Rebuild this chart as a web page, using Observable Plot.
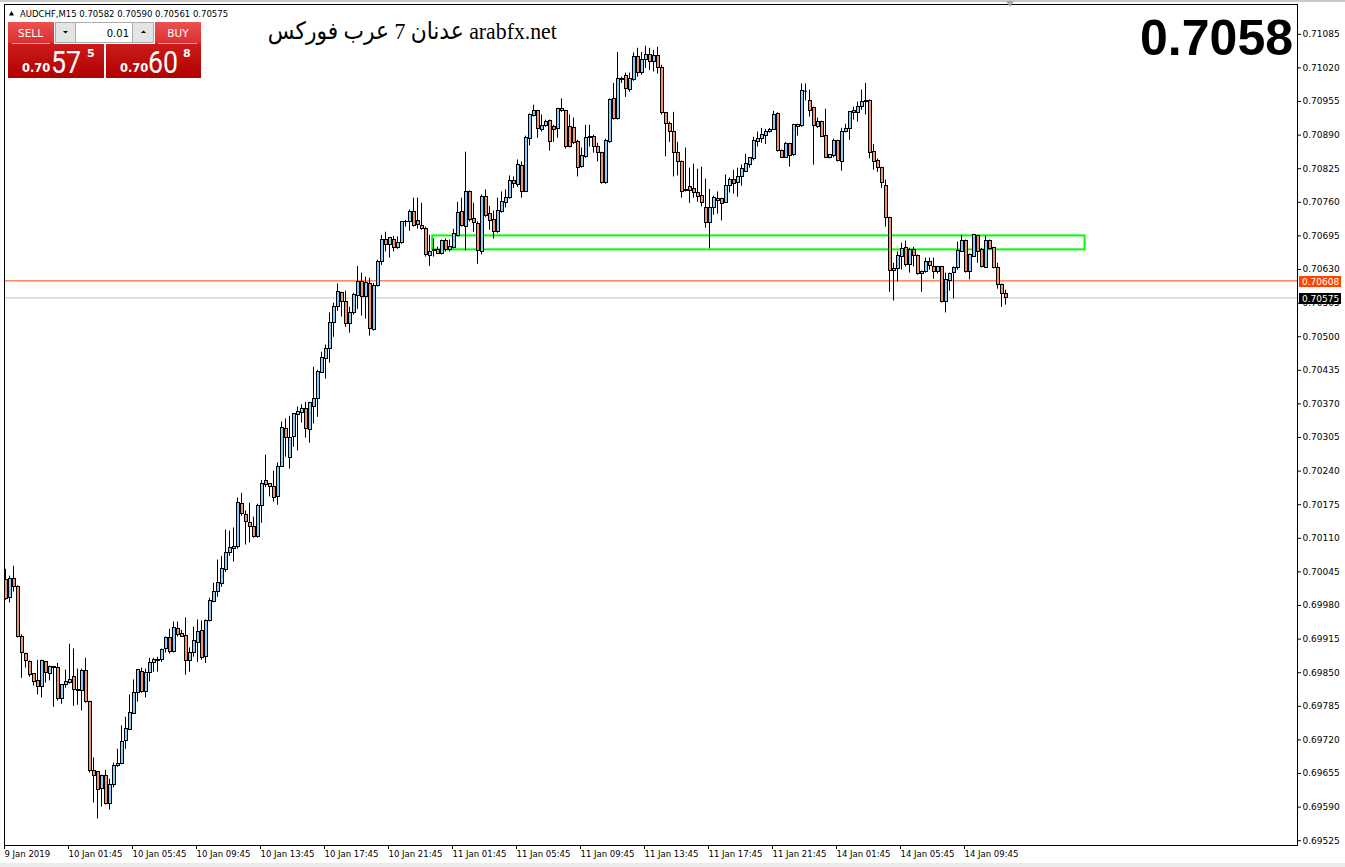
<!DOCTYPE html>
<html><head><meta charset="utf-8">
<script src="https://cdn.jsdelivr.net/npm/d3@7"></script>
<script src="https://cdn.jsdelivr.net/npm/@observablehq/plot@0.6"></script>
<style>
html,body{margin:0;padding:0;background:#fff;overflow:hidden;}
#wrap{position:relative;width:1345px;height:867px;overflow:hidden;background:#fff;}
#chart{position:absolute;left:0;top:0;}
#overlay{position:absolute;left:0;top:0;pointer-events:none;}
#brand{position:absolute;right:788px;top:15px;font-family:"Liberation Serif","DejaVu Sans",serif;font-size:24px;line-height:32px;white-space:nowrap;direction:rtl;color:#000;transform-origin:right center;}
</style></head><body>
<div id="wrap">
<div id="chart"></div>
<svg id="overlay" width="1345" height="867">
<defs>
<linearGradient id="lbl" x1="0" y1="0" x2="0" y2="1"><stop offset="0" stop-color="#ec5050"/><stop offset="1" stop-color="#dc3030"/></linearGradient>
<linearGradient id="px" x1="0" y1="0" x2="0" y2="1"><stop offset="0" stop-color="#de2c2c"/><stop offset="1" stop-color="#b00000"/></linearGradient>
</defs>
<rect x="0" y="0" width="1345" height="2" fill="#c8c8c8"/>
<rect x="0" y="863" width="1345" height="4" fill="#ececec"/>
<polygon points="1006,1 1014,1 1010,7" fill="#a8a8a8"/>
<polygon points="9,15.5 14,15.5 11.5,11" fill="#000"/>
<text id="info" x="20" y="16.5" font-family="DejaVu Sans" font-size="8.5" fill="#000"></text>
<!-- sell -->
<rect x="8" y="22" width="96" height="56" fill="url(#px)"/>
<rect x="8" y="22" width="46" height="21" fill="url(#lbl)"/>
<line x1="12" y1="43.5" x2="50" y2="43.5" stroke="#f2a0a0"/>
<text x="30.5" y="37" text-anchor="middle" fill="#fff" font-family="DejaVu Sans" font-size="10.5">SELL</text>
<!-- buy -->
<rect x="106" y="22" width="95" height="56" fill="url(#px)"/>
<rect x="155" y="22" width="46" height="21" fill="url(#lbl)"/>
<line x1="158" y1="43.5" x2="197" y2="43.5" stroke="#f2a0a0"/>
<text x="178" y="37" text-anchor="middle" fill="#fff" font-family="DejaVu Sans" font-size="10.5">BUY</text>
<!-- lot control -->
<rect x="54" y="21" width="101" height="23" fill="#fff"/>
<rect x="55.5" y="22.5" width="20" height="20" fill="#e4e4e4" stroke="#acacac"/>
<rect x="75.5" y="22.5" width="57" height="20" fill="#fff" stroke="#acacac"/>
<rect x="132.5" y="22.5" width="21" height="20" fill="#e4e4e4" stroke="#acacac"/>
<polygon points="63,31 68,31 65.5,33.5" fill="#000"/>
<polygon points="141,33 146,33 143.5,30.5" fill="#000"/>
<text id="lot" x="129" y="36.5" text-anchor="end" font-family="DejaVu Sans" font-size="10" fill="#000"></text>
<!-- prices -->
<text id="sPre" x="22" y="72" font-family="DejaVu Sans" font-weight="bold" font-size="11.5" fill="#fff"></text>
<text id="sBig" x="51" y="72.5" font-family="Roboto" font-size="32" fill="#fff" textLength="30" lengthAdjust="spacingAndGlyphs"></text>
<text id="sSup" x="87" y="57" font-family="DejaVu Sans" font-weight="bold" font-size="11" fill="#fff"></text>
<text id="bPre" x="120" y="72" font-family="DejaVu Sans" font-weight="bold" font-size="11.5" fill="#fff"></text>
<text id="bBig" x="148" y="72.5" font-family="Roboto" font-size="32" fill="#fff" textLength="30" lengthAdjust="spacingAndGlyphs"></text>
<text id="bSup" x="183" y="57" font-family="DejaVu Sans" font-weight="bold" font-size="11" fill="#fff"></text>
<text id="bigPrice" x="1293" y="55" text-anchor="end" font-family="Liberation Sans" font-weight="bold" font-size="50" fill="#000"></text>
</svg>
<div id="brand"></div>
</div>
<script>
// ---- data (AUDCHF, M15) ----
const symbol = "AUDCHF,M15";
const opens = [
0.70029,0.69994,0.70031,0.70015,0.69919,0.69886,0.69871,0.69847,0.69834,0.69822,
0.69870,0.69848,0.69861,0.69860,0.69799,0.69826,0.69830,0.69841,0.69816,0.69815,
0.69853,0.69793,0.69660,0.69658,0.69625,0.69650,0.69596,0.69632,0.69669,0.69673,
0.69718,0.69740,0.69771,0.69811,0.69852,0.69812,0.69849,0.69869,0.69873,0.69875,
0.69895,0.69917,0.69890,0.69935,0.69925,0.69921,0.69872,0.69888,0.69908,0.69930,
0.69880,0.69950,0.69987,0.70007,0.70022,0.70048,0.70081,0.70089,0.70093,0.70176,
0.70155,0.70140,0.70132,0.70112,0.70172,0.70220,0.70215,0.70210,0.70190,0.70248,
0.70322,0.70265,0.70306,0.70348,0.70352,0.70360,0.70320,0.70364,0.70380,0.70430,
0.70456,0.70476,0.70527,0.70557,0.70584,0.70567,0.70524,0.70546,0.70578,0.70605,
0.70576,0.70601,0.70513,0.70598,0.70644,0.70687,0.70677,0.70688,0.70671,0.70681,
0.70722,0.70721,0.70741,0.70724,0.70714,0.70708,0.70656,0.70665,0.70668,0.70660,
0.70685,0.70668,0.70671,0.70695,0.70741,0.70712,0.70780,0.70727,0.70718,0.70664,
0.70770,0.70737,0.70725,0.70702,0.70741,0.70758,0.70768,0.70801,0.70793,0.70831,
0.70780,0.70882,0.70927,0.70936,0.70900,0.70907,0.70917,0.70905,0.70901,0.70936,
0.70936,0.70905,0.70903,0.70876,0.70828,0.70847,0.70884,0.70886,0.70867,0.70855,
0.70797,0.70876,0.70960,0.70921,0.70998,0.71004,0.70977,0.70996,0.71041,0.71010,
0.71035,0.71045,0.71031,0.71043,0.71019,0.70932,0.70911,0.70896,0.70855,0.70838,
0.70782,0.70789,0.70785,0.70778,0.70772,0.70749,0.70720,0.70749,0.70766,0.70766,
0.70758,0.70791,0.70803,0.70797,0.70809,0.70818,0.70832,0.70844,0.70876,0.70882,
0.70888,0.70896,0.70900,0.70931,0.70859,0.70846,0.70872,0.70851,0.70905,0.70907,
0.70975,0.70956,0.70942,0.70905,0.70915,0.70888,0.70846,0.70849,0.70878,0.70838,
0.70896,0.70901,0.70936,0.70933,0.70944,0.70954,0.70956,0.70857,0.70840,0.70826,
0.70791,0.70729,0.70627,0.70631,0.70654,0.70671,0.70638,0.70668,0.70656,0.70621,
0.70625,0.70644,0.70635,0.70625,0.70635,0.70567,0.70608,0.70623,0.70633,0.70664,
0.70685,0.70625,0.70654,0.70694,0.70668,0.70633,0.70685,0.70671,0.70633,0.70600,
0.70582];
const highs = [
0.70050,0.70037,0.70056,0.70018,0.69923,0.69888,0.69873,0.69848,0.69874,0.69874,
0.69871,0.69863,0.69862,0.69868,0.69826,0.69855,0.69905,0.69896,0.69857,0.69857,
0.69878,0.69795,0.69685,0.69659,0.69652,0.69661,0.69644,0.69675,0.69702,0.69747,
0.69764,0.69807,0.69836,0.69855,0.69859,0.69857,0.69878,0.69878,0.69880,0.69896,
0.69919,0.69934,0.69948,0.69948,0.69932,0.69956,0.69898,0.69938,0.69952,0.69950,
0.69952,0.69994,0.70023,0.70068,0.70075,0.70126,0.70124,0.70130,0.70188,0.70197,
0.70163,0.70178,0.70151,0.70176,0.70222,0.70271,0.70216,0.70240,0.70256,0.70335,
0.70341,0.70346,0.70350,0.70364,0.70368,0.70373,0.70373,0.70441,0.70435,0.70470,
0.70484,0.70546,0.70565,0.70602,0.70586,0.70588,0.70557,0.70584,0.70636,0.70623,
0.70615,0.70613,0.70603,0.70648,0.70696,0.70702,0.70691,0.70694,0.70693,0.70722,
0.70725,0.70745,0.70768,0.70768,0.70758,0.70712,0.70696,0.70689,0.70673,0.70687,
0.70689,0.70687,0.70708,0.70760,0.70768,0.70857,0.70782,0.70758,0.70722,0.70774,
0.70784,0.70752,0.70743,0.70768,0.70780,0.70784,0.70811,0.70809,0.70842,0.70838,
0.70888,0.70931,0.70948,0.70938,0.70929,0.70919,0.70919,0.70909,0.70942,0.70960,
0.70938,0.70929,0.70923,0.70880,0.70865,0.70909,0.70909,0.70890,0.70874,0.70857,
0.70882,0.70960,0.70990,0.71050,0.71002,0.71010,0.71010,0.71049,0.71058,0.71050,
0.71062,0.71058,0.71054,0.71060,0.71025,0.70933,0.70915,0.70934,0.70876,0.70840,
0.70865,0.70826,0.70834,0.70824,0.70828,0.70805,0.70785,0.70772,0.70780,0.70768,
0.70813,0.70807,0.70822,0.70826,0.70832,0.70853,0.70846,0.70886,0.70896,0.70903,
0.70901,0.70903,0.70936,0.70933,0.70861,0.70876,0.70874,0.70911,0.70911,0.70989,
0.70989,0.70977,0.70944,0.70923,0.70917,0.70940,0.70851,0.70882,0.70880,0.70903,
0.70911,0.70934,0.70944,0.70954,0.70977,0.70990,0.70958,0.70872,0.70844,0.70828,
0.70803,0.70731,0.70642,0.70664,0.70681,0.70685,0.70671,0.70673,0.70658,0.70627,
0.70652,0.70652,0.70652,0.70636,0.70636,0.70623,0.70623,0.70635,0.70683,0.70696,
0.70687,0.70660,0.70698,0.70696,0.70671,0.70694,0.70687,0.70673,0.70642,0.70602,
0.70590];
const lows = [
0.69990,0.69985,0.70006,0.69917,0.69839,0.69859,0.69841,0.69824,0.69807,0.69801,
0.69830,0.69834,0.69783,0.69795,0.69789,0.69820,0.69828,0.69785,0.69787,0.69776,
0.69791,0.69656,0.69598,0.69567,0.69590,0.69594,0.69584,0.69627,0.69667,0.69672,
0.69702,0.69738,0.69769,0.69793,0.69810,0.69801,0.69832,0.69851,0.69851,0.69870,
0.69888,0.69886,0.69888,0.69919,0.69919,0.69845,0.69851,0.69880,0.69870,0.69874,
0.69868,0.69948,0.69985,0.69996,0.70015,0.70044,0.70075,0.70064,0.70089,0.70153,
0.70097,0.70101,0.70110,0.70110,0.70139,0.70208,0.70190,0.70180,0.70174,0.70247,
0.70267,0.70244,0.70286,0.70279,0.70333,0.70304,0.70294,0.70331,0.70344,0.70429,
0.70418,0.70449,0.70499,0.70549,0.70538,0.70518,0.70507,0.70542,0.70553,0.70540,
0.70534,0.70501,0.70511,0.70596,0.70638,0.70664,0.70652,0.70664,0.70669,0.70679,
0.70712,0.70704,0.70712,0.70708,0.70706,0.70654,0.70636,0.70654,0.70660,0.70658,
0.70664,0.70664,0.70670,0.70693,0.70712,0.70666,0.70722,0.70702,0.70640,0.70658,
0.70731,0.70706,0.70689,0.70700,0.70739,0.70749,0.70766,0.70787,0.70789,0.70768,
0.70780,0.70869,0.70925,0.70884,0.70896,0.70905,0.70859,0.70876,0.70884,0.70934,
0.70863,0.70865,0.70872,0.70809,0.70826,0.70845,0.70867,0.70855,0.70838,0.70795,
0.70795,0.70874,0.70919,0.70919,0.70990,0.70963,0.70973,0.70994,0.71002,0.71006,
0.71019,0.71015,0.71012,0.71008,0.70929,0.70848,0.70876,0.70809,0.70811,0.70768,
0.70780,0.70758,0.70768,0.70760,0.70751,0.70710,0.70670,0.70735,0.70737,0.70724,
0.70758,0.70778,0.70776,0.70770,0.70791,0.70818,0.70826,0.70840,0.70867,0.70874,
0.70872,0.70894,0.70900,0.70857,0.70846,0.70846,0.70828,0.70849,0.70888,0.70905,
0.70956,0.70925,0.70832,0.70903,0.70886,0.70846,0.70844,0.70846,0.70838,0.70820,
0.70894,0.70880,0.70919,0.70915,0.70938,0.70929,0.70844,0.70822,0.70818,0.70787,
0.70712,0.70586,0.70569,0.70606,0.70629,0.70635,0.70623,0.70635,0.70619,0.70586,
0.70623,0.70629,0.70611,0.70621,0.70565,0.70546,0.70588,0.70573,0.70629,0.70664,
0.70623,0.70610,0.70654,0.70642,0.70633,0.70633,0.70668,0.70631,0.70592,0.70557,
0.70561];
const closes = [
0.69992,0.70031,0.70015,0.69920,0.69888,0.69872,0.69845,0.69832,0.69822,0.69872,
0.69849,0.69861,0.69860,0.69799,0.69826,0.69832,0.69836,0.69816,0.69815,0.69853,
0.69793,0.69660,0.69650,0.69623,0.69650,0.69596,0.69632,0.69669,0.69673,0.69716,
0.69741,0.69772,0.69810,0.69855,0.69812,0.69849,0.69868,0.69874,0.69875,0.69894,
0.69917,0.69890,0.69936,0.69923,0.69920,0.69872,0.69888,0.69911,0.69928,0.69878,
0.69950,0.69988,0.70006,0.70023,0.70050,0.70081,0.70091,0.70093,0.70178,0.70157,
0.70141,0.70132,0.70112,0.70172,0.70216,0.70214,0.70210,0.70188,0.70248,0.70323,
0.70304,0.70304,0.70350,0.70354,0.70360,0.70321,0.70371,0.70379,0.70431,0.70458,
0.70476,0.70526,0.70557,0.70586,0.70567,0.70524,0.70546,0.70580,0.70605,0.70576,
0.70603,0.70515,0.70598,0.70644,0.70687,0.70677,0.70690,0.70671,0.70681,0.70722,
0.70721,0.70741,0.70714,0.70716,0.70708,0.70658,0.70664,0.70668,0.70660,0.70685,
0.70668,0.70673,0.70698,0.70739,0.70714,0.70780,0.70725,0.70720,0.70666,0.70770,
0.70733,0.70724,0.70702,0.70743,0.70760,0.70768,0.70801,0.70795,0.70832,0.70780,
0.70884,0.70929,0.70936,0.70901,0.70907,0.70915,0.70876,0.70900,0.70940,0.70940,
0.70867,0.70867,0.70874,0.70826,0.70849,0.70884,0.70886,0.70867,0.70855,0.70797,
0.70878,0.70958,0.70921,0.70998,0.70996,0.70979,0.70998,0.71041,0.71010,0.71035,
0.71045,0.71031,0.71043,0.71019,0.70933,0.70911,0.70896,0.70855,0.70838,0.70780,
0.70784,0.70782,0.70778,0.70770,0.70758,0.70720,0.70749,0.70768,0.70762,0.70756,
0.70791,0.70803,0.70795,0.70809,0.70824,0.70834,0.70846,0.70878,0.70882,0.70890,
0.70896,0.70900,0.70929,0.70859,0.70846,0.70872,0.70849,0.70909,0.70909,0.70975,
0.70975,0.70936,0.70907,0.70915,0.70886,0.70846,0.70851,0.70878,0.70840,0.70896,
0.70901,0.70934,0.70933,0.70944,0.70954,0.70956,0.70855,0.70838,0.70826,0.70797,
0.70729,0.70627,0.70631,0.70656,0.70670,0.70638,0.70668,0.70656,0.70621,0.70625,
0.70644,0.70636,0.70625,0.70635,0.70567,0.70610,0.70621,0.70633,0.70666,0.70685,
0.70625,0.70658,0.70696,0.70664,0.70635,0.70685,0.70670,0.70633,0.70600,0.70582,
0.70575];
const bidPrice = 0.70575;
const askPrice = 0.70608;
const lotSize = "0.01";
const bigPriceLabel = "0.7058";
const brandText = "arabfx.net عدنان 7 عرب فوركس";
const yTicks = [0.69525,0.69590,0.69655,0.69720,0.69785,0.69850,0.69915,0.69980,0.70045,0.70110,
  0.70175,0.70240,0.70305,0.70370,0.70435,0.70500,0.70565,0.70630,0.70695,0.70760,
  0.70825,0.70890,0.70955,0.71020,0.71085];
const xTickBars = [0,16,32,48,64,80,96,112,128,144,160,176,192,208,224,240];
const xTickLabels = ["9 Jan 2019","10 Jan 01:45","10 Jan 05:45","10 Jan 09:45","10 Jan 13:45","10 Jan 17:45",
  "10 Jan 21:45","11 Jan 01:45","11 Jan 05:45","11 Jan 09:45","11 Jan 13:45","11 Jan 17:45",
  "11 Jan 21:45","14 Jan 01:45","14 Jan 05:45","14 Jan 09:45"];
// support/resistance zone (bar index start/end, price top/bottom)
const zoneStart = [106.8];
const zoneEnd = [269.9];
const zoneTop = [0.70695];
const zoneBottom = [0.70668];

const upColor = "#87cefa", downColor = "#ee9470";

const bars = closes.map((c, i) => ({i, open: opens[i], high: highs[i], low: lows[i], close: c}));
const zones = zoneStart.map((s, k) => ({start: s, end: zoneEnd[k], top: zoneTop[k], bottom: zoneBottom[k]}));
const labelOf = new Map(xTickBars.map((b, k) => [b, xTickLabels[k]]));

const chart = Plot.plot({
  width: 1345, height: 867,
  marginLeft: 4, marginRight: 48, marginTop: 4, marginBottom: 22,
  style: {background: "transparent", color: "#000", fontFamily: "DejaVu Sans", fontSize: "9px", overflow: "visible"},
  x: {type: "linear", domain: [-0.25, 323], label: null},
  y: {type: "linear", domain: [0.6951573, 0.7114265], label: null},
  marks: [
    Plot.ruleY([askPrice], {stroke: "#ff4500", strokeWidth: 1}),
    Plot.ruleY([bidPrice], {stroke: "#c0c0c0", strokeWidth: 1}),
    Plot.rect(zones, {x1: "start", x2: "end", y1: "top", y2: "bottom", fill: "none", stroke: "#00ff00", strokeWidth: 2, inset: 0}),
    Plot.ruleX(bars, {x: "i", y1: "low", y2: "high", stroke: "#000", strokeWidth: 1}),
    Plot.rect(bars, {x1: d => d.i - 0.25, x2: d => d.i + 0.5, y1: "open", y2: "close",
      fill: d => d.close >= d.open ? upColor : downColor, stroke: "#000", strokeWidth: 1, inset: 0, shapeRendering: "crispEdges"}),
    Plot.ruleY(bars.filter(d => d.open === d.close), {y: "open", x1: d => d.i - 0.25, x2: d => d.i + 0.5, stroke: "#000"}),
    Plot.frame({stroke: "#000", strokeWidth: 1}),
    Plot.axisY(yTicks, {anchor: "right", tickSize: 3, tickPadding: 2, tickFormat: d => d.toFixed(5), fontSize: 9, label: null}),
    Plot.axisX(xTickBars, {anchor: "bottom", tickSize: 4, tickPadding: 1, tickFormat: d => labelOf.get(d), textAnchor: "start", dx: -1, fontSize: 8.5, label: null})
  ]
});
document.getElementById("chart").appendChild(chart);

// price labels on the right axis, positioned with the chart's own y scale
const ys = chart.scale("y");
const svgSel = d3.select(chart);
[[askPrice, "#ff4500"], [bidPrice, "#000000"]].forEach(([p, col]) => {
  const y = Math.round(ys.apply(p) + 0.5);
  const g = svgSel.append("g").attr("text-anchor", "start");
  g.append("rect").attr("x", 1299).attr("y", y - 5).attr("width", 42).attr("height", 11).attr("fill", col);
  g.append("text").attr("x", 1302).attr("y", y + 4).attr("fill", "#fff").attr("text-anchor", "start")
    .attr("font-family", "DejaVu Sans").attr("font-size", 9).text(p.toFixed(5));
});

// header texts built from data
const last = bars.length - 1;
document.getElementById("info").textContent =
  `${symbol}  ${opens[last].toFixed(5)} ${highs[last].toFixed(5)} ${lows[last].toFixed(5)} ${closes[last].toFixed(5)}`;
const bs = bidPrice.toFixed(5), as = askPrice.toFixed(5);
document.getElementById("sPre").textContent = bs.slice(0, 4);
document.getElementById("sBig").textContent = bs.slice(4, 6);
document.getElementById("sSup").textContent = bs.slice(6);
document.getElementById("bPre").textContent = as.slice(0, 4);
document.getElementById("bBig").textContent = as.slice(4, 6);
document.getElementById("bSup").textContent = as.slice(6);
document.getElementById("lot").textContent = lotSize;
document.getElementById("bigPrice").textContent = bigPriceLabel;
const brand = document.getElementById("brand");
brand.textContent = brandText;
const bw = brand.getBoundingClientRect().width;
if (bw > 0) brand.style.transform = `scaleX(${289 / bw})`;
</script>
</body></html>
